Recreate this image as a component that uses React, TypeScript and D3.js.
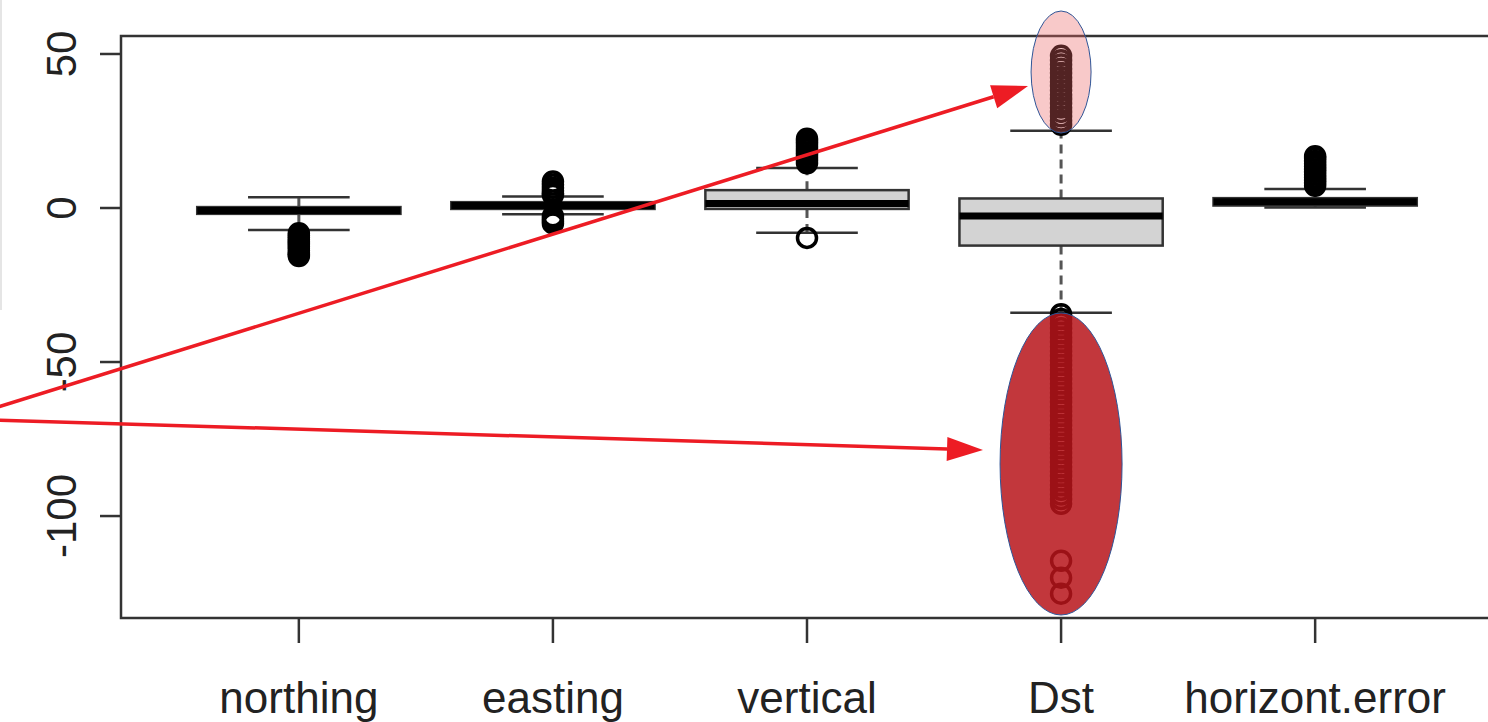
import React from "react";
import * as d3 from "d3";

// boxplot summary values
const categories = ["northing", "easting", "vertical", "Dst", "horizont.error"];
const lowerWhisker = [-7.1, -2.0, -8.0, -34.0, 0.2];
const q1 = [-1.9, -0.3, -0.3, -12.2, 0.8];
const median = [-0.8, 0.8, 1.5, -2.6, 2.0];
const q3 = [0.3, 1.9, 5.8, 3.1, 3.2];
const upperWhisker = [3.5, 3.7, 13.0, 25.1, 6.2];

// outliers per category
const outNorthing = [-8.2, -8.9, -9.6, -10.3, -11, -11.7, -12.4, -13.1, -13.8, -14.5, -15.1, -15.6];
const outEasting = [8.6, 7.6, 6.6, 5.6, 4.7, 4.2, -2.7, -3.5, -4.3, -5.0];
const outVertical = [14.5, 15.4, 16.3, 17.2, 18.1, 19, 19.9, 20.8, 21.7, 22.5, -9.7];
const outDst = [
  27, 28.4, 29.8, 31.2, 32.6, 34, 35.4, 36.8, 38.2, 39.6, 41, 42.4, 43.8, 45.2, 46.6, 48, 49.4,
  -34.5, -36, -37.5, -39, -40.5, -42, -43.5, -45, -46.5, -48, -49.5, -51, -52.5, -54,
  -55.5, -57, -58.5, -60, -61.5, -63, -64.5, -66, -67.5, -69, -70.5, -72, -73.5, -75,
  -76.5, -78, -79.5, -81, -82.5, -84, -85.5, -87, -88.5, -90, -91.5, -93, -94.5, -96,
  -114.5, -120, -125.2,
];
const outHoriz = [7.2, 8.1, 9, 9.9, 10.8, 11.7, 12.6, 13.5, 14.4, 15.3, 16.2, 16.8];
const outliers = [outNorthing, outEasting, outVertical, outDst, outHoriz];

const yTicks = [50, 0, -50, -100];

const W = 1488;
const H = 722;
const FONT = "'Liberation Sans', Arial, Helvetica, sans-serif";

export default function App() {
  const x = d3.scaleLinear().domain([0.3, 5.7]).range([121, 1493]);
  const y = d3.scaleLinear().domain([-133.1, 55.84]).range([618, 36]);
  const step = x(2) - x(1);
  const boxW = step * 0.8;
  const stapleW = boxW / 2;

  const stats = categories.map((name, i) => ({
    name,
    pos: x(i + 1),
    lo: lowerWhisker[i],
    q1: q1[i],
    med: median[i],
    q3: q3[i],
    hi: upperWhisker[i],
    out: outliers[i],
  }));

  const dst = x(4);
  const arrow1 = { x0: -5, y0: 408, x1: 1028, y1: 86 };
  const arrow2 = { x0: -5, y0: 420, x1: 983, y1: 450 };

  const head = (a: { x0: number; y0: number; x1: number; y1: number }) => {
    const ang = Math.atan2(a.y1 - a.y0, a.x1 - a.x0);
    const len = 36;
    const half = 12;
    const bx = a.x1 - len * Math.cos(ang);
    const by = a.y1 - len * Math.sin(ang);
    const px = -Math.sin(ang) * half;
    const py = Math.cos(ang) * half;
    return {
      pts: `${a.x1},${a.y1} ${bx + px},${by + py} ${bx - px},${by - py}`,
      bx,
      by,
    };
  };
  const h1 = head(arrow1);
  const h2 = head(arrow2);

  return (
    <svg
      width={W}
      height={H}
      style={{ position: "absolute", left: 0, top: 0, background: "#fff" }}
      fontFamily={FONT}
    >
      <line x1={1} y1={0} x2={1} y2={310} stroke="#ddd" strokeWidth={1.5} />

      {/* y axis */}
      {yTicks.map((t) => (
        <g key={t}>
          <line x1={100} x2={121} y1={y(t)} y2={y(t)} stroke="#333" strokeWidth={2.5} />
          <text
            transform={`translate(76,${y(t)}) rotate(-90)`}
            textAnchor="middle"
            fontSize={42}
            fill="#222"
          >
            {t}
          </text>
        </g>
      ))}

      {/* x axis */}
      {stats.map((s) => (
        <g key={s.name}>
          <line x1={s.pos} x2={s.pos} y1={618} y2={643} stroke="#333" strokeWidth={2.5} />
          <text x={s.pos} y={713} textAnchor="middle" fontSize={44} fill="#222">
            {s.name}
          </text>
        </g>
      ))}

      {/* boxes */}
      {stats.map((s) => (
        <g key={s.name}>
          <line x1={s.pos} x2={s.pos} y1={y(s.q3)} y2={y(s.hi)} stroke="#555" strokeWidth={3} strokeDasharray="9,6" />
          <line x1={s.pos} x2={s.pos} y1={y(s.q1)} y2={y(s.lo)} stroke="#555" strokeWidth={3} strokeDasharray="9,6" />
          <line x1={s.pos - stapleW / 2} x2={s.pos + stapleW / 2} y1={y(s.hi)} y2={y(s.hi)} stroke="#333" strokeWidth={2.5} />
          <line x1={s.pos - stapleW / 2} x2={s.pos + stapleW / 2} y1={y(s.lo)} y2={y(s.lo)} stroke="#333" strokeWidth={2.5} />
          <rect
            x={s.pos - boxW / 2}
            y={y(s.q3)}
            width={boxW}
            height={y(s.q1) - y(s.q3)}
            fill="#d3d3d3"
            stroke="#333"
            strokeWidth={2.5}
          />
          <line
            x1={s.pos - boxW / 2}
            x2={s.pos + boxW / 2}
            y1={y(s.med)}
            y2={y(s.med)}
            stroke="#000"
            strokeWidth={7}
          />
          {s.out.map((v, j) => (
            <circle key={j} cx={s.pos} cy={y(v)} r={9.5} fill="none" stroke="#000" strokeWidth={3.5} />
          ))}
        </g>
      ))}

      {/* frame */}
      <rect x={121} y={36} width={1372} height={582} fill="none" stroke="#333" strokeWidth={2.5} />

      {/* annotations */}
      <ellipse cx={dst} cy={72} rx={30} ry={61} fill="rgba(235,100,100,0.35)" stroke="#2f5597" strokeWidth={1} />
      <ellipse cx={dst} cy={464} rx={61} ry={151} fill="rgb(183,20,26)" fillOpacity={0.85} stroke="#2f5597" strokeWidth={1} />

      <line x1={arrow1.x0} y1={arrow1.y0} x2={h1.bx} y2={h1.by} stroke="#ed1c24" strokeWidth={3.5} />
      <polygon points={h1.pts} fill="#ed1c24" />
      <line x1={arrow2.x0} y1={arrow2.y0} x2={h2.bx} y2={h2.by} stroke="#ed1c24" strokeWidth={3.5} />
      <polygon points={h2.pts} fill="#ed1c24" />
    </svg>
  );
}
